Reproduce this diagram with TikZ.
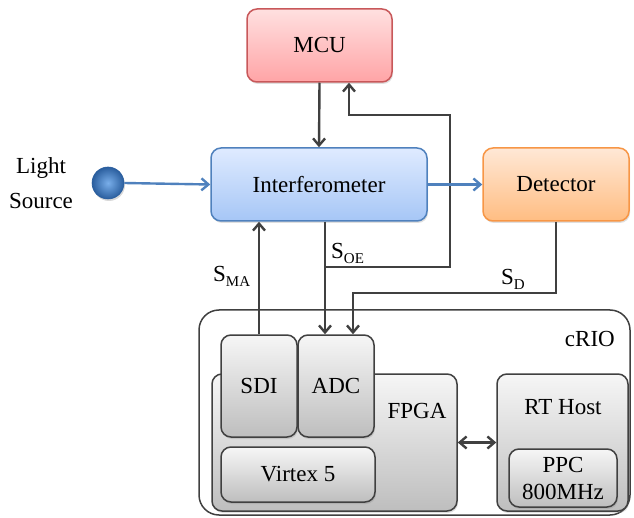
\documentclass[tikz,border=0pt]{standalone}
\usepackage{fontspec}
\setmainfont{Liberation Serif}
\usetikzlibrary{arrows.meta,shadows,calc}
\definecolor{darkline}{HTML}{404040}
\definecolor{mcuborder}{HTML}{C8585A}
\definecolor{mcutop}{HTML}{FFE0E0}
\definecolor{mcubot}{HTML}{FFA4A6}
\definecolor{intborder}{HTML}{4F81BD}
\definecolor{inttop}{HTML}{DFEBFF}
\definecolor{intbot}{HTML}{A6C6F6}
\definecolor{detborder}{HTML}{F79646}
\definecolor{dettop}{HTML}{FFE8D6}
\definecolor{detbot}{HTML}{FFBD82}
\definecolor{greytop}{HTML}{F6F6F6}
\definecolor{greybot}{HTML}{BEBEBE}
\definecolor{lsinner}{HTML}{79AEEA}
\definecolor{lsouter}{HTML}{2A5E9E}
\definecolor{bluearrow}{HTML}{4F81BD}
\newcommand{\sub}[1]{\raisebox{-5pt}{\fontsize{15}{15}\selectfont #1}}
\begin{document}
\begin{tikzpicture}[x=1pt,y=-1pt,
  font=\fontsize{23}{26}\selectfont,
  box/.style={draw, rounded corners=10pt, line width=1.5pt, inner sep=0pt,
    drop shadow={opacity=0.25, shadow xshift=1pt, shadow yshift=-2pt}},
  mcubox/.style={box, draw=mcuborder, top color=mcutop, bottom color=mcubot},
  intbox/.style={box, draw=intborder, top color=inttop, bottom color=intbot},
  detbox/.style={box, draw=detborder, top color=dettop, bottom color=detbot},
  greybox/.style={box, draw=darkline, top color=greytop, bottom color=greybot},
  tip/.tip={Straight Barb[length=7pt,width=12pt]},
  arr/.style={draw=darkline, line width=2.4pt, -tip},
  darr/.style={draw=darkline, line width=2.4pt, tip-tip},
  barr/.style={draw=bluearrow, line width=2.4pt, -tip},
  lbl/.style={inner sep=0pt, anchor=base west}
]
\useasboundingbox (0,0) rectangle (634,518);

% top blocks
\node[mcubox, minimum width=145pt, minimum height=73pt] (mcu) at (319.5,45.5) {MCU};
\node[intbox, minimum width=216pt, minimum height=73pt] (intf) at (319,184.5) {Interferometer};
\node[detbox, minimum width=146pt, minimum height=73pt] (det) at (556,184.5) {Detector};

% light source
\node[circle, minimum size=32pt, inner sep=0pt, draw=lsouter, line width=0.6pt,
  inner color=lsinner, outer color=lsouter,
  drop shadow={opacity=0.3, shadow xshift=1pt, shadow yshift=-2pt}] (ls) at (108,183) {};
\node[align=center, inner sep=0pt, font=\fontsize{23}{35}\selectfont] (lslabel) at (41,183) {Light\\Source};

% cRIO
\node[draw=darkline, line width=1.5pt, rounded corners=20pt, fill=white, minimum width=431pt, minimum height=205pt] (crio) at (414.5,412.5) {};
\node[inner sep=0pt, anchor=base east] (criolabel) at (615,346) {cRIO};

\node[greybox, minimum width=245pt, minimum height=137pt] (fpga) at (334.5,442.5) {};
\node[inner sep=0pt] (fpgalabel) at (417,411) {FPGA};
\node[greybox, minimum width=76pt, minimum height=102pt] (sdi) at (259,386) {SDI};
\node[greybox, minimum width=76pt, minimum height=102pt] (adc) at (336,386) {ADC};
\node[greybox, minimum width=154pt, minimum height=55pt] (virtex) at (298,474.5) {Virtex 5};

\node[greybox, minimum width=131pt, minimum height=137pt] (rth) at (562.5,442.5) {};
\node[inner sep=0pt] (rthlabel) at (563,407) {RT Host};
\node[greybox, minimum width=108pt, minimum height=58pt, align=center, font=\fontsize{23}{27}\selectfont] (ppc) at (563,478) {PPC\\800MHz};

% connectors
\coordinate (soeX) at (325,0);
\coordinate (fbX) at (349,0);
\coordinate (sdX) at (353,0);
\coordinate (b1) at (450,267);
\coordinate (b2) at (450,115);
\coordinate (d1) at (556,293);

\draw[arr] (mcu.south) -- (intf.north);
\draw[arr] (intf.south -| soeX) -- (adc.north -| soeX);
\draw[arr] (b1 -| soeX) -- (b1) -- (b2) -- (b2 -| fbX) -- (mcu.south -| fbX);
\draw[arr] (sdi.north) -- (intf.south -| sdi.north);
\draw[arr] (det.south) -- (d1) -- (d1 -| sdX) -- (adc.north -| sdX);
\draw[darr] (fpga.east) -- (rth.west);
\draw[barr] (ls.east) -- (intf.west);
\draw[barr] (intf.east) -- (det.west);

% signal labels
\node[lbl] (soe) at (331,259) {S\sub{OE}};
\node[lbl] (sma) at (213,282) {S\sub{MA}};
\node[lbl] (sd) at (501,285) {S\sub{D}};
\end{tikzpicture}
\end{document}
